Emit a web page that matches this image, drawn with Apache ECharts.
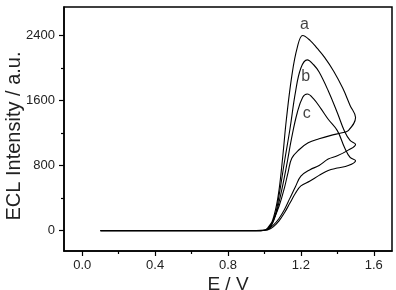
<!DOCTYPE html>
<html>
<head>
<meta charset="utf-8">
<script src="https://cdn.jsdelivr.net/npm/echarts@6/dist/echarts.min.js"></script>
<style>
  html, body { margin: 0; padding: 0; background: #fff; }
  #chart { width: 396px; height: 290px; }
</style>
</head>
<body>
<div id="chart"></div>
<script>
// curve a: forward scan then reverse scan (E in V, intensity in a.u.)
var aE = [0.1, 0.5, 0.9, 0.98, 1.0, 1.03, 1.06, 1.08, 1.10, 1.12, 1.15, 1.18, 1.21, 1.25, 1.29, 1.33, 1.38, 1.43, 1.47, 1.5,
          1.46, 1.42, 1.37, 1.3, 1.24, 1.19, 1.15, 1.13, 1.11, 1.08, 1.05, 1.02, 1.0, 0.9, 0.1];
var aI = [0, 0, 0, 0, 5, 50, 250, 500, 900, 1360, 1900, 2250, 2400, 2340, 2240, 2130, 1960, 1750, 1540, 1390,
          1230, 1200, 1175, 1130, 1080, 995, 890, 720, 530, 300, 140, 40, 8, 0, 0];
// curve b
var bE = [0.1, 0.5, 0.9, 0.98, 1.0, 1.03, 1.06, 1.08, 1.11, 1.14, 1.17, 1.2, 1.235, 1.27, 1.3, 1.35, 1.4, 1.44, 1.47, 1.5,
          1.46, 1.4, 1.35, 1.3, 1.25, 1.2, 1.17, 1.14, 1.11, 1.08, 1.05, 1.02, 1.0, 0.9, 0.1];
var bI = [0, 0, 0, 0, 5, 40, 200, 430, 850, 1250, 1700, 2000, 2100, 2040, 1950, 1720, 1450, 1220, 1110, 1060,
          990, 920, 880, 800, 750, 670, 540, 400, 260, 150, 70, 15, 5, 0, 0];
// curve c
var cE = [0.1, 0.5, 0.9, 0.98, 1.0, 1.03, 1.06, 1.09, 1.12, 1.15, 1.18, 1.21, 1.235, 1.27, 1.31, 1.35, 1.4, 1.44, 1.47, 1.5,
          1.46, 1.4, 1.35, 1.3, 1.25, 1.2, 1.17, 1.14, 1.11, 1.08, 1.05, 1.02, 1.0, 0.9, 0.1];
var cI = [0, 0, 0, 0, 5, 35, 180, 450, 780, 1150, 1450, 1640, 1680, 1620, 1500, 1370, 1230, 1020, 900, 860,
          800, 770, 740, 680, 610, 550, 460, 340, 220, 120, 50, 10, 4, 0, 0];

var labelText = ['a', 'b', 'c'];
var labelE = [1.219, 1.226, 1.232];
var labelI = [2530, 1900, 1436];

var xMajor = [0, 0.4, 0.8, 1.2, 1.6];
var xMinor = [0.2, 0.6, 1.0, 1.4];
var yMajor = [0, 800, 1600, 2400];
var yMinor = [400, 1200, 2000];

function pairs(xs, ys) {
  var out = [];
  for (var i = 0; i < xs.length; i++) out.push([xs[i], ys[i]]);
  return out;
}

var font = '"Liberation Sans", Arial, sans-serif';
var chart = echarts.init(document.getElementById('chart'), null, { renderer: 'canvas' });

function lineSeries(name, data) {
  return {
    name: name,
    type: 'line',
    data: data,
    smooth: 0.4,
    showSymbol: false,
    lineStyle: { color: '#000', width: 1.1 },
    z: 3
  };
}

var labelData = [];
for (var i = 0; i < labelText.length; i++) labelData.push([labelE[i], labelI[i], labelText[i]]);

var option = {
  animation: false,
  backgroundColor: '#fff',
  grid: {
    left: 64, right: 4, top: 7, bottom: 39,
    outerBoundsMode: 'none',
    containLabel: false,
    show: true, borderColor: '#000', borderWidth: 1.5, backgroundColor: 'transparent'
  },
  xAxis: [{
    type: 'value', min: -0.1, max: 1.7, position: 'bottom',
    axisLine: { onZero: false, lineStyle: { color: '#000', width: 1.5 } },
    axisTick: { customValues: xMajor, length: 5, lineStyle: { color: '#000', width: 1.2 } },
    axisLabel: {
      customValues: xMajor, color: '#222', fontSize: 13, fontFamily: font, margin: 8,
      formatter: function (v) { return v.toFixed(1); }
    },
    splitLine: { show: false },
    name: 'E / V', nameLocation: 'middle', nameGap: 24, nameMoveOverlap: false,
    nameTextStyle: { fontSize: 19, color: '#222', fontFamily: font }
  }, {
    type: 'value', min: -0.1, max: 1.7, position: 'bottom',
    axisLine: { show: false, onZero: false },
    axisTick: { customValues: xMinor, length: 3, lineStyle: { color: '#000', width: 1.2 } },
    axisLabel: { show: false },
    splitLine: { show: false }
  }],
  yAxis: [{
    type: 'value', min: -250, max: 2750, position: 'left',
    axisLine: { show: true, onZero: false, lineStyle: { color: '#000', width: 1.5 } },
    axisTick: { show: true, customValues: yMajor, length: 5, lineStyle: { color: '#000', width: 1.2 } },
    axisLabel: {
      customValues: yMajor, color: '#222', fontSize: 13, fontFamily: font, margin: 9,
      formatter: function (v) { return String(v); }
    },
    splitLine: { show: false },
    name: 'ECL Intensity / a.u.', nameLocation: 'middle', nameGap: 40, nameMoveOverlap: false,
    nameTextStyle: { fontSize: 20, color: '#222', fontFamily: font, padding: [0, 14, 0, 0] }
  }, {
    type: 'value', min: -250, max: 2750, position: 'left',
    axisLine: { show: false, onZero: false },
    axisTick: { show: true, customValues: yMinor, length: 3, lineStyle: { color: '#000', width: 1.2 } },
    axisLabel: { show: false },
    splitLine: { show: false }
  }],
  series: [
    lineSeries('a', pairs(aE, aI)),
    lineSeries('b', pairs(bE, bI)),
    lineSeries('c', pairs(cE, cI)),
    {
      type: 'scatter',
      data: labelData,
      symbolSize: 1,
      itemStyle: { color: 'rgba(0,0,0,0)' },
      label: {
        show: true, position: 'inside', color: '#111', fontSize: 16, fontFamily: font,
        formatter: function (p) { return p.value[2]; }
      },
      z: 4
    }
  ]
};
chart.setOption(option);
</script>
</body>
</html>
